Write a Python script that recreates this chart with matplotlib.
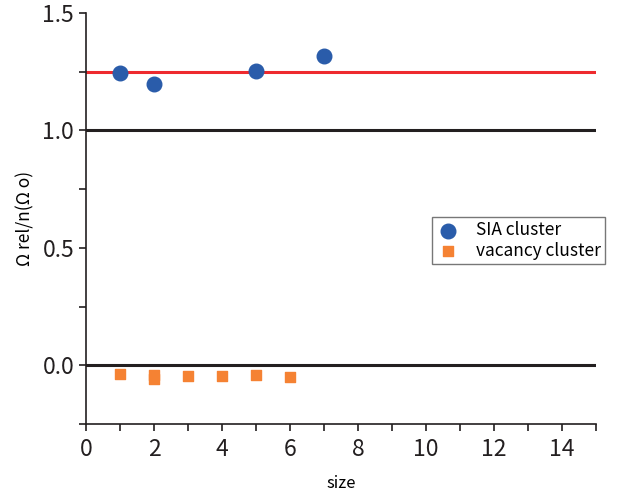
import matplotlib
matplotlib.use("Agg")
import matplotlib.pyplot as plt
from matplotlib.ticker import MultipleLocator

plt.rcParams['font.family'] = ['Noto Sans CJK JP', 'DejaVu Sans']

sia_x = [1, 2, 5, 7]
sia_y = [1.243, 1.196, 1.251, 1.315]
vac_x = [1, 2, 2, 3, 4, 5, 6]
vac_y = [-0.038, -0.040, -0.057, -0.047, -0.044, -0.040, -0.050]
ref_red = 1.25
ref_black = [1.0, 0.0]

fig = plt.figure(figsize=(6.22, 4.97), dpi=100)
ax = fig.add_axes([86/622, 1-424/497, (596-86)/622, (424-13)/497])

ax.axhline(ref_red, color='#ee2a2e', lw=2.2, zorder=1)
for v in ref_black:
    ax.axhline(v, color='#231f20', lw=2.2, zorder=1)

ax.scatter(sia_x, sia_y, s=110, marker='o', color='#2a5caa', label='SIA cluster', zorder=3)
ax.scatter(vac_x, vac_y, s=60, marker='s', color='#f58233', label='vacancy cluster', zorder=3)

ax.set_xlim(0, 15)
ax.set_ylim(-0.25, 1.5)
ax.xaxis.set_major_locator(MultipleLocator(2))
ax.xaxis.set_minor_locator(MultipleLocator(1))
ax.yaxis.set_major_locator(MultipleLocator(0.5))
ax.yaxis.set_minor_locator(MultipleLocator(0.25))
ax.yaxis.set_major_formatter(matplotlib.ticker.FormatStrFormatter('%.1f'))

for s in ['top', 'right']:
    ax.spines[s].set_visible(False)
for s in ['left', 'bottom']:
    ax.spines[s].set_linewidth(1.2)
    ax.spines[s].set_color('#231f20')

ax.tick_params(which='both', direction='out', length=5, width=1.2, colors='#231f20', labelsize=16.5)
ax.tick_params(axis='x', pad=5)

ax.set_xlabel('size', fontsize=12, labelpad=10)
ax.set_ylabel('Ω rel/n(Ω o)', fontsize=12.5, labelpad=6)

leg = ax.legend(loc='upper left', bbox_to_anchor=((432-86)/510, 1-(217-13)/411),
                fontsize=12.5, frameon=True, fancybox=False, borderaxespad=0,
                handletextpad=0.9, borderpad=0.25, labelspacing=0.15, handlelength=1.4)
leg.get_frame().set_edgecolor('#555555')
leg.get_frame().set_linewidth(1.0)

fig.savefig('out.png', dpi=100)
